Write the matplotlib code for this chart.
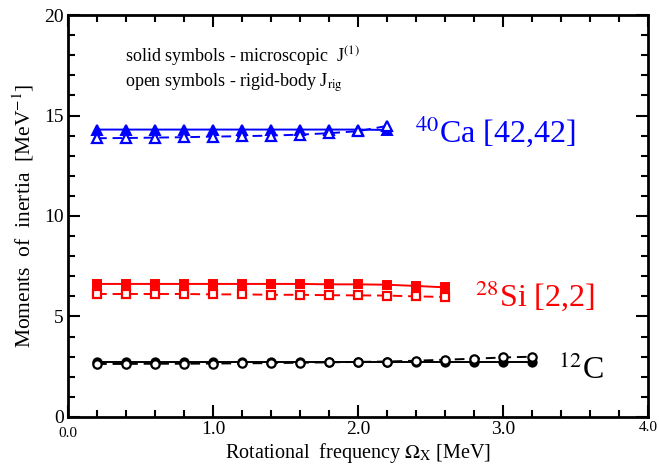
import numpy as np
import matplotlib.pyplot as plt
import matplotlib.transforms as mtrans

plt.rcParams["font.family"] = ["Liberation Serif", "DejaVu Serif"]
plt.rcParams["mathtext.fontset"] = "stix"

# 40Ca [42,42]
omega_ca = [0.2, 0.4, 0.6, 0.8, 1.0, 1.2, 1.4, 1.6, 1.8, 2.0, 2.2]
ca_micro = [14.30, 14.30, 14.30, 14.30, 14.30, 14.30, 14.30, 14.30, 14.30, 14.30, 14.28]
ca_rigid = [13.87, 13.88, 13.90, 13.92, 13.95, 13.97, 14.00, 14.05, 14.12, 14.22, 14.48]

# 28Si [2,2]
omega_si = [0.2, 0.4, 0.6, 0.8, 1.0, 1.2, 1.4, 1.6, 1.8, 2.0, 2.2, 2.4, 2.6]
si_micro = [6.62, 6.62, 6.62, 6.62, 6.62, 6.62, 6.62, 6.62, 6.60, 6.60, 6.58, 6.52, 6.45]
si_rigid = [6.12, 6.12, 6.12, 6.12, 6.10, 6.10, 6.08, 6.08, 6.06, 6.05, 6.04, 6.00, 5.97]

# 12C
omega_c = [0.2, 0.4, 0.6, 0.8, 1.0, 1.2, 1.4, 1.6, 1.8, 2.0, 2.2, 2.4, 2.6, 2.8, 3.0, 3.2]
c_micro = [2.72, 2.72, 2.72, 2.72, 2.72, 2.72, 2.72, 2.72, 2.72, 2.72, 2.72, 2.72, 2.72, 2.72, 2.72, 2.72]
c_rigid = [2.64, 2.64, 2.65, 2.65, 2.66, 2.67, 2.68, 2.70, 2.72, 2.74, 2.76, 2.80, 2.85, 2.90, 2.96, 3.00]

fig = plt.figure(figsize=(6.59, 4.69), dpi=100)
ax = fig.add_axes([0.1032, 0.1109, 0.8801, 0.8571])

series = [
    (omega_ca, ca_micro, ca_rigid, "blue", "^", 7.5),
    (omega_si, si_micro, si_rigid, "red", "s", 6),
    (omega_c, c_micro, c_rigid, "black", "o", 6),
]
for om, micro, rigid, col, mk, ms in series:
    ax.plot(om, micro, "-", color=col, lw=1.4, marker=mk, ms=ms,
            mfc=col, mec=col, mew=1.4)
    ax.plot(om, rigid, "--", color=col, lw=1.4, marker=mk, ms=ms,
            mfc="white", mec=col, mew=1.6, dashes=(5, 3))

ax.set_xlim(0, 4.0)
ax.set_ylim(0, 20)
ax.set_xticks([0.0, 1.0, 2.0, 3.0, 4.0])
ax.set_xticks(np.arange(0, 4.01, 0.2), minor=True)
ax.set_yticks([0, 5, 10, 15, 20])
ax.set_yticks(np.arange(0, 20.1, 1), minor=True)
ax.tick_params(which="both", direction="in", top=True, right=True, width=1.5)
ax.tick_params(which="major", length=8.5, labelsize=14, pad=3)
ax.tick_params(which="minor", length=4.8)
ax.set_xticklabels(["0.0", "1.0", "2.0", "3.0", "4.0"])
xl = ax.get_xticklabels()
xl[0].set_fontsize(11)
xl[-1].set_fontsize(11)
# nudge the "0.0" label down a little so it clears the y "0"
xl[0].set_transform(xl[0].get_transform() +
                    mtrans.ScaledTranslation(0, -4 / 72, fig.dpi_scale_trans))
for s in ax.spines.values():
    s.set_linewidth(2)

ax.set_xlabel(r"Rotational  frequency $\Omega_{\rm X}$ [MeV]", fontsize=14.5, labelpad=1)
ax.set_ylabel(r"Moments  of  inertia  [MeV$^{-1}$]", fontsize=15.5, labelpad=6)

ax.text(0.39, 17.66, r"solid symbols - microscopic  J$^{(1)}$", fontsize=13)
ax.text(0.39, 16.45, r"open symbols - rigid-body J$_{\rm rig}$", fontsize=13)

ax.text(2.39, 14.2, r"$^{40}$Ca [42,42]", color="blue", fontsize=23, va="center")
ax.text(2.81, 6.05, r"$^{28}$Si [2,2]", color="red", fontsize=23, va="center")
ax.text(3.38, 2.3, r"$^{12}$C", color="black", fontsize=23, va="center")

fig.savefig("out.png", dpi=100)
